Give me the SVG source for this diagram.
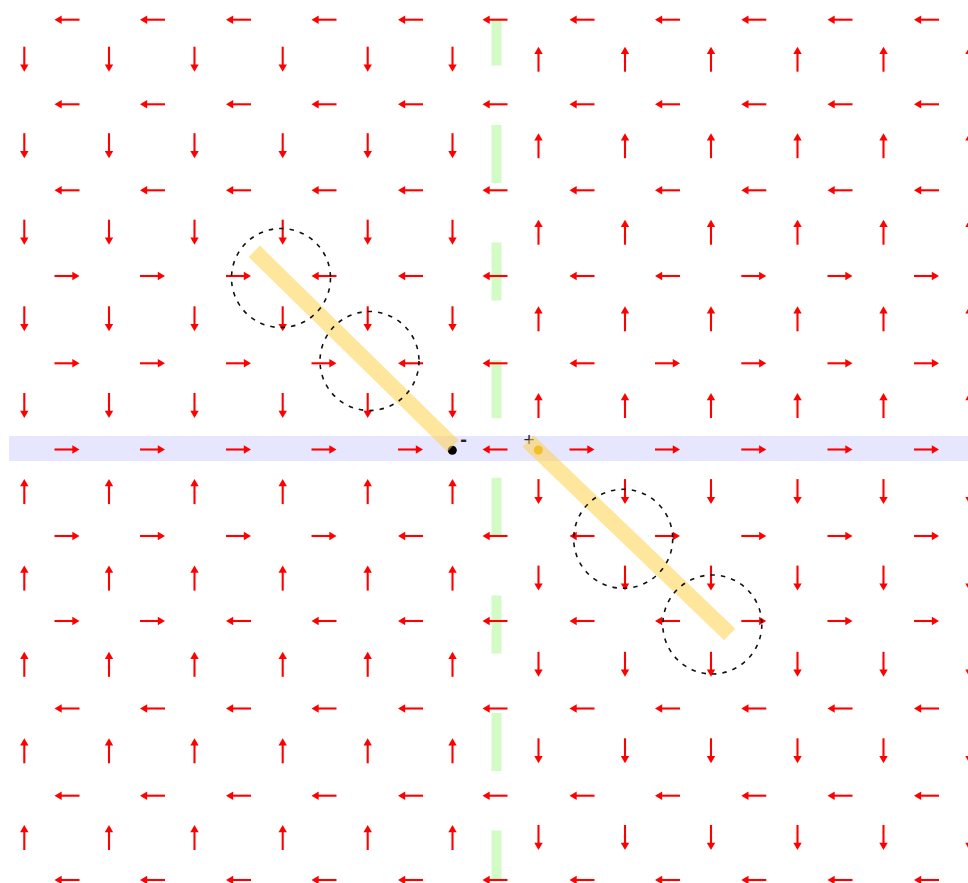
<svg xmlns="http://www.w3.org/2000/svg" xmlns:xlink="http://www.w3.org/1999/xlink" width="968" height="883" viewBox="0 0 968 883">
<style>
.s{stroke:#ff0000;stroke-width:2.1;fill:none}
.h{fill:#ff0000;stroke:none}
.ring{fill:none;stroke:#111;stroke-width:1.6;stroke-dasharray:4.5 6}
.rib{stroke:#ffd24d;stroke-opacity:0.55;stroke-width:16;stroke-linecap:butt;fill:none}
.lbl{font-family:"Liberation Sans",Arial,sans-serif;fill:#222;text-anchor:middle}
</style>
<defs>
<g id="L"><path class="s" d="M12.5 0H-6"/><path class="h" d="M-12.5 0L-5.3 -4.2L-5.3 4.2Z"/></g>
<g id="R"><path class="s" d="M-12.5 0H6"/><path class="h" d="M12.5 0L5.3 -4.2L5.3 4.2Z"/></g>
<g id="U"><path class="s" d="M0 12.5V-6"/><path class="h" d="M0 -12.5L-4.2 -5.3L4.2 -5.3Z"/></g>
<g id="D"><path class="s" d="M0 -12.5V6"/><path class="h" d="M0 12.5L-4.2 5.3L4.2 5.3Z"/></g>
</defs>
<rect width="968" height="883" fill="#ffffff"/>
<g id="band"><rect x="9" y="436" width="959" height="25" fill="#e6e6ff"/></g>
<g id="green-line"><line x1="496.5" y1="19.5" x2="496.5" y2="880" stroke="#d2fbc6" stroke-width="10" stroke-dasharray="58 59.6" stroke-dashoffset="12.1"/></g>
<g id="horizontal-arrows">
<g transform="translate(0,19.7)"><use href="#L" x="67"/><use href="#L" x="152.5"/><use href="#L" x="238.5"/><use href="#L" x="324"/><use href="#L" x="410.5"/><use href="#L" x="495"/><use href="#L" x="582"/><use href="#L" x="667.5"/><use href="#L" x="753.8"/><use href="#L" x="840"/><use href="#L" x="926.5"/></g>
<g transform="translate(0,104.3)"><use href="#L" x="67"/><use href="#L" x="152.5"/><use href="#L" x="238.5"/><use href="#L" x="324"/><use href="#L" x="410.5"/><use href="#L" x="495"/><use href="#L" x="582"/><use href="#L" x="667.5"/><use href="#L" x="753.8"/><use href="#L" x="840"/><use href="#L" x="926.5"/></g>
<g transform="translate(0,190.3)"><use href="#L" x="67"/><use href="#L" x="152.5"/><use href="#L" x="238.5"/><use href="#L" x="324"/><use href="#L" x="410.5"/><use href="#L" x="495"/><use href="#L" x="582"/><use href="#L" x="667.5"/><use href="#L" x="753.8"/><use href="#L" x="840"/><use href="#L" x="926.5"/></g>
<g transform="translate(0,276)"><use href="#R" x="67"/><use href="#R" x="152.5"/><use href="#R" x="238.5"/><use href="#L" x="324"/><use href="#L" x="410.5"/><use href="#L" x="495"/><use href="#L" x="582"/><use href="#L" x="667.5"/><use href="#R" x="753.8"/><use href="#R" x="840"/><use href="#R" x="926.5"/></g>
<g transform="translate(0,363.3)"><use href="#R" x="67"/><use href="#R" x="152.5"/><use href="#R" x="238.5"/><use href="#R" x="324"/><use href="#L" x="410.5"/><use href="#L" x="495"/><use href="#L" x="582"/><use href="#R" x="667.5"/><use href="#R" x="753.8"/><use href="#R" x="840"/><use href="#R" x="926.5"/></g>
<g transform="translate(0,449.5)"><use href="#R" x="67"/><use href="#R" x="152.5"/><use href="#R" x="238.5"/><use href="#R" x="324"/><use href="#R" x="410.5"/><use href="#L" x="495"/><use href="#R" x="582"/><use href="#R" x="667.5"/><use href="#R" x="753.8"/><use href="#R" x="840"/><use href="#R" x="926.5"/></g>
<g transform="translate(0,536)"><use href="#R" x="67"/><use href="#R" x="152.5"/><use href="#R" x="238.5"/><use href="#R" x="324"/><use href="#L" x="410.5"/><use href="#L" x="495"/><use href="#L" x="582"/><use href="#R" x="667.5"/><use href="#R" x="753.8"/><use href="#R" x="840"/><use href="#R" x="926.5"/></g>
<g transform="translate(0,621)"><use href="#R" x="67"/><use href="#R" x="152.5"/><use href="#L" x="238.5"/><use href="#L" x="324"/><use href="#L" x="410.5"/><use href="#L" x="495"/><use href="#L" x="582"/><use href="#L" x="667.5"/><use href="#R" x="753.8"/><use href="#R" x="840"/><use href="#R" x="926.5"/></g>
<g transform="translate(0,708.5)"><use href="#L" x="67"/><use href="#L" x="152.5"/><use href="#L" x="238.5"/><use href="#L" x="324"/><use href="#L" x="410.5"/><use href="#L" x="495"/><use href="#L" x="582"/><use href="#L" x="667.5"/><use href="#L" x="753.8"/><use href="#L" x="840"/><use href="#L" x="926.5"/></g>
<g transform="translate(0,795.7)"><use href="#L" x="67"/><use href="#L" x="152.5"/><use href="#L" x="238.5"/><use href="#L" x="324"/><use href="#L" x="410.5"/><use href="#L" x="495"/><use href="#L" x="582"/><use href="#L" x="667.5"/><use href="#L" x="753.8"/><use href="#L" x="840"/><use href="#L" x="926.5"/></g>
<g transform="translate(0,880)"><use href="#L" x="67"/><use href="#L" x="152.5"/><use href="#L" x="238.5"/><use href="#L" x="324"/><use href="#L" x="410.5"/><use href="#L" x="495"/><use href="#L" x="582"/><use href="#L" x="667.5"/><use href="#L" x="753.8"/><use href="#L" x="840"/><use href="#L" x="926.5"/></g>
</g>
<g id="vertical-arrows">
<g transform="translate(0,59.2)"><use href="#D" x="24.3"/><use href="#D" x="109"/><use href="#D" x="194.5"/><use href="#D" x="282.7"/><use href="#D" x="367.7"/><use href="#D" x="452.5"/><use href="#U" x="538.5"/><use href="#U" x="625"/><use href="#U" x="711"/><use href="#U" x="797.5"/><use href="#U" x="883.5"/><use href="#U" x="969.5"/></g>
<g transform="translate(0,145.7)"><use href="#D" x="24.3"/><use href="#D" x="109"/><use href="#D" x="194.5"/><use href="#D" x="282.7"/><use href="#D" x="367.7"/><use href="#D" x="452.5"/><use href="#U" x="538.5"/><use href="#U" x="625"/><use href="#U" x="711"/><use href="#U" x="797.5"/><use href="#U" x="883.5"/><use href="#U" x="969.5"/></g>
<g transform="translate(0,232.2)"><use href="#D" x="24.3"/><use href="#D" x="109"/><use href="#D" x="194.5"/><use href="#D" x="282.7"/><use href="#D" x="367.7"/><use href="#D" x="452.5"/><use href="#U" x="538.5"/><use href="#U" x="625"/><use href="#U" x="711"/><use href="#U" x="797.5"/><use href="#U" x="883.5"/><use href="#U" x="969.5"/></g>
<g transform="translate(0,318.8)"><use href="#D" x="24.3"/><use href="#D" x="109"/><use href="#D" x="194.5"/><use href="#D" x="282.7"/><use href="#D" x="367.7"/><use href="#D" x="452.5"/><use href="#U" x="538.5"/><use href="#U" x="625"/><use href="#U" x="711"/><use href="#U" x="797.5"/><use href="#U" x="883.5"/><use href="#U" x="969.5"/></g>
<g transform="translate(0,405.5)"><use href="#D" x="24.3"/><use href="#D" x="109"/><use href="#D" x="194.5"/><use href="#D" x="282.7"/><use href="#D" x="367.7"/><use href="#D" x="452.5"/><use href="#U" x="538.5"/><use href="#U" x="625"/><use href="#U" x="711"/><use href="#U" x="797.5"/><use href="#U" x="883.5"/><use href="#U" x="969.5"/></g>
<g transform="translate(0,491.6)"><use href="#U" x="24.3"/><use href="#U" x="109"/><use href="#U" x="194.5"/><use href="#U" x="282.7"/><use href="#U" x="367.7"/><use href="#U" x="452.5"/><use href="#D" x="538.5"/><use href="#D" x="625"/><use href="#D" x="711"/><use href="#D" x="797.5"/><use href="#D" x="883.5"/><use href="#D" x="969.5"/></g>
<g transform="translate(0,578.1)"><use href="#U" x="24.3"/><use href="#U" x="109"/><use href="#U" x="194.5"/><use href="#U" x="282.7"/><use href="#U" x="367.7"/><use href="#U" x="452.5"/><use href="#D" x="538.5"/><use href="#D" x="625"/><use href="#D" x="711"/><use href="#D" x="797.5"/><use href="#D" x="883.5"/><use href="#D" x="969.5"/></g>
<g transform="translate(0,664.3)"><use href="#U" x="24.3"/><use href="#U" x="109"/><use href="#U" x="194.5"/><use href="#U" x="282.7"/><use href="#U" x="367.7"/><use href="#U" x="452.5"/><use href="#D" x="538.5"/><use href="#D" x="625"/><use href="#D" x="711"/><use href="#D" x="797.5"/><use href="#D" x="883.5"/><use href="#D" x="969.5"/></g>
<g transform="translate(0,750.8)"><use href="#U" x="24.3"/><use href="#U" x="109"/><use href="#U" x="194.5"/><use href="#U" x="282.7"/><use href="#U" x="367.7"/><use href="#U" x="452.5"/><use href="#D" x="538.5"/><use href="#D" x="625"/><use href="#D" x="711"/><use href="#D" x="797.5"/><use href="#D" x="883.5"/><use href="#D" x="969.5"/></g>
<g transform="translate(0,837.5)"><use href="#U" x="24.3"/><use href="#U" x="109"/><use href="#U" x="194.5"/><use href="#U" x="282.7"/><use href="#U" x="367.7"/><use href="#U" x="452.5"/><use href="#D" x="538.5"/><use href="#D" x="625"/><use href="#D" x="711"/><use href="#D" x="797.5"/><use href="#D" x="883.5"/><use href="#D" x="969.5"/></g>
</g>
<g id="charges">
<circle id="charge-minus" cx="452.3" cy="450.3" r="4.5" fill="#000000"/>
<circle id="charge-plus" cx="538.3" cy="450" r="4.5" fill="#e0a800"/>
<text class="lbl" x="463.5" y="446" font-size="20" font-weight="bold">-</text>
<text class="lbl" x="529" y="445.7" font-size="19">+</text>
</g>
<g id="ribbons">
<line class="rib" x1="254.3" y1="251.3" x2="453" y2="446"/>
<line class="rib" x1="528" y1="441" x2="729.7" y2="634.5"/>
</g>
<g id="loops">
<circle class="ring" cx="281" cy="278" r="49.5"/>
<circle class="ring" cx="369.5" cy="361" r="49.5"/>
<circle class="ring" cx="623.2" cy="538.8" r="49.5"/>
<circle class="ring" cx="712.3" cy="624.5" r="49.5"/>
</g>
</svg>
